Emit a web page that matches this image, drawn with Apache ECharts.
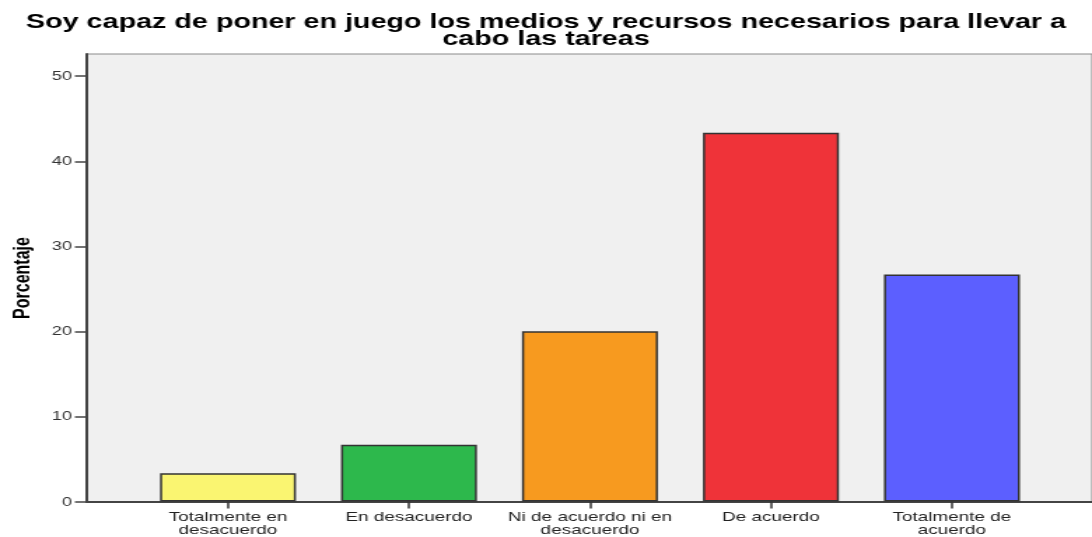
<!DOCTYPE html>
<html><head><meta charset="utf-8">
<script src="https://cdn.jsdelivr.net/npm/echarts@6/dist/echarts.min.js"></script>
<style>
html,body{margin:0;padding:0;background:#fff;overflow:hidden}
#wrap{width:1092px;height:537px;overflow:hidden}
#c{width:780px;height:537px;transform:scaleX(1.4);transform-origin:0 0}
</style>
</head><body><div id="wrap"><div id="c"></div></div>
<script>
var titleText = 'Soy capaz de poner en juego los medios y recursos necesarios para llevar a\ncabo las tareas';
var categories = ['Totalmente en\ndesacuerdo', 'En desacuerdo', 'Ni de acuerdo ni en\ndesacuerdo', 'De acuerdo', 'Totalmente de\nacuerdo'];
var values = [3.33, 6.67, 20.0, 43.33, 26.67];
var barColors = ['#faf571', '#2db84c', '#f79a1f', '#ef3339', '#5c5fff'];
var yTicks = [0, 10, 20, 30, 40, 50];
var yMax = 52.6;

var chart = echarts.init(document.getElementById('c'), null, {renderer: 'canvas'});
var font = 'Liberation Sans, Arial, sans-serif';
chart.setOption({
  animation: false,
  title: {
    text: titleText, left: 'center', top: 9,
    textStyle: {fontFamily: font, fontWeight: 'bold', fontSize: 20.5, color: '#000', lineHeight: 17}
  },
  grid: [
    {left: 62.1, right: 0, top: 54, bottom: 35, show: true, backgroundColor: '#f0f0f0', borderColor: '#8a8a8a', borderWidth: 1},
    {left: 98.2, width: 646.4, top: 54, bottom: 35}
  ],
  xAxis: [
    {gridIndex: 0, type: 'value', min: 0, max: 1, axisLine: {show: true, lineStyle: {color: '#444', width: 2}}, axisTick: {show: false}, axisLabel: {show: false}, splitLine: {show: false}},
    {gridIndex: 1, type: 'category', data: categories, axisLine: {show: false},
     axisTick: {show: true, alignWithLabel: true, length: 7, lineStyle: {color: '#333', width: 1.5}},
     axisLabel: {fontFamily: font, fontSize: 13.5, color: '#222', lineHeight: 13, margin: 9, interval: 0}}
  ],
  yAxis: [
    {gridIndex: 0, type: 'value', min: 0, max: yMax, interval: 10,
     name: 'Porcentaje', nameLocation: 'middle', nameGap: 38, nameRotate: 90,
     nameTextStyle: {fontFamily: font, fontWeight: 'bold', fontSize: 16, color: '#000'},
     axisLine: {show: true, lineStyle: {color: '#444', width: 2}},
     axisTick: {show: true, length: 8.6, lineStyle: {color: '#444', width: 1.5}, customValues: yTicks},
     axisLabel: {fontFamily: font, fontSize: 13, color: '#333', margin: 10.7, customValues: yTicks},
     splitLine: {show: false}},
    {gridIndex: 1, type: 'value', min: 0, max: yMax, show: false}
  ],
  series: [{
    type: 'bar', xAxisIndex: 1, yAxisIndex: 1,
    barWidth: 97.1,
    data: values.map(function (v, i) {
      return {value: v, itemStyle: {color: barColors[i], borderColor: '#333', borderWidth: 1.5}};
    })
  }]
});
</script></body></html>
